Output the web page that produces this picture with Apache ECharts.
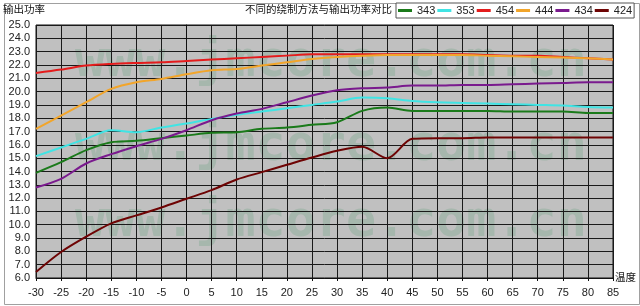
<!DOCTYPE html>
<html><head><meta charset="utf-8">
<script src="https://cdn.jsdelivr.net/npm/echarts@6/dist/echarts.min.js"></script>
<style>html,body{margin:0;padding:0;background:#fff}#c{width:640px;height:306px}</style>
</head><body><div id="c"></div>
<script>
var temps = [-30,-25,-20,-15,-10,-5,0,5,10,15,20,25,30,35,40,45,50,55,60,65,70,75,80,85];
var seriesNames = ['343','353','454','444','434','424'];
var s343 = [13.9,14.7,15.6,16.2,16.3,16.5,16.7,16.9,16.95,17.2,17.3,17.5,17.7,18.55,18.8,18.55,18.55,18.55,18.55,18.5,18.5,18.5,18.4,18.4];
var s353 = [15.15,15.8,16.45,17.1,16.95,17.3,17.6,17.95,18.25,18.5,18.75,19.0,19.25,19.55,19.5,19.3,19.2,19.15,19.1,19.05,19.0,18.95,18.85,18.8];
var s454 = [21.4,21.65,21.95,22.08,22.15,22.2,22.3,22.4,22.5,22.6,22.7,22.8,22.8,22.8,22.8,22.8,22.8,22.8,22.75,22.7,22.7,22.6,22.5,22.4];
var s444 = [17.2,18.2,19.2,20.2,20.7,20.95,21.3,21.6,21.7,21.95,22.2,22.45,22.6,22.7,22.75,22.75,22.75,22.75,22.7,22.65,22.6,22.55,22.5,22.4];
var s434 = [12.8,13.45,14.6,15.3,15.9,16.45,17.1,17.85,18.35,18.7,19.2,19.7,20.1,20.25,20.3,20.45,20.45,20.5,20.5,20.55,20.6,20.65,20.7,20.7];
var s424 = [6.45,7.95,9.1,10.1,10.7,11.3,11.95,12.6,13.4,13.95,14.5,15.05,15.55,15.85,15.0,16.45,16.5,16.5,16.55,16.55,16.55,16.55,16.55,16.55];
var colors = ['#1a7a1a','#40e4e4','#e41c1c','#f2a52a','#7a1a8e','#6e0404'];
var allValues = [s343,s353,s454,s444,s434,s424];

var chart = echarts.init(document.getElementById('c'), null, {renderer:'canvas'});
var numFont = '"Liberation Sans", Arial, sans-serif';
var wm = 'www.jmcore.com.cn';
function wmText(y){ return {type:'text', left:75, top:y, z:1, silent:true, style:{text:wm, fill:'#a6b7ad', font:'bold 50px "DejaVu Sans Mono", monospace'}}; }

chart.setOption({
  animation:false,
  backgroundColor:'#ffffff',
  color: colors,
  grid:{left:36,right:27,top:25,bottom:28,show:true,backgroundColor:'#c0c0c0',borderColor:'#111',borderWidth:1,z:0},
  legend:{
    data: seriesNames, left:396, top:3, orient:'horizontal', width:250,
    icon:'rect', itemWidth:14, itemHeight:3, itemGap:2,
    padding:[2,2,2,2], borderColor:'#555', borderWidth:1, backgroundColor:'#fff',
    textStyle:{fontFamily:numFont, fontSize:11, color:'#222'}
  },
  graphic:[
    {type:'rect', left:2, top:1, z:-1, shape:{width:635, height:301}, style:{fill:'none', stroke:'#a0a0a0', lineWidth:1}},
    {type:'text', left:3, top:4, style:{text:'输出功率', fill:'#111', font:'10.5px "Noto Sans CJK SC", sans-serif'}},
    {type:'text', right:248, top:4, style:{text:'不同的绕制方法与输出功率对比', fill:'#111', font:'10.5px "Noto Sans CJK SC", sans-serif'}},
    {type:'text', left:615, top:272, style:{text:'温度', fill:'#111', font:'10.5px "Noto Sans CJK SC", sans-serif'}},
    wmText(38), wmText(122), wmText(198)
  ],
  xAxis:{
    type:'value', min:-30, max:85, interval:5, z:2,
    axisLine:{show:true, onZero:false, lineStyle:{color:'#111', width:1}},
    axisTick:{show:true, length:3, lineStyle:{color:'#111'}},
    axisLabel:{fontFamily:numFont, fontSize:11, color:'#222', margin:9},
    splitLine:{show:true, lineStyle:{color:'#1a1a1a', width:1}}
  },
  yAxis:{
    type:'value', min:6, max:25, interval:1, z:2,
    axisLine:{show:true, lineStyle:{color:'#111', width:1}},
    axisTick:{show:true, length:3, lineStyle:{color:'#111'}},
    axisLabel:{fontFamily:numFont, fontSize:11, color:'#222', margin:6, formatter:function(v){return v.toFixed(1);}},
    splitLine:{show:true, lineStyle:{color:'#1a1a1a', width:1}}
  },
  series: seriesNames.map(function(n,i){
    return {name:n, type:'line', z:3, smooth:0.3, symbol:'none', showSymbol:false,
      lineStyle:{width:2, color:colors[i]},
      data: temps.map(function(t,k){return [t, allValues[i][k]];})};
  })
});
</script></body></html>
